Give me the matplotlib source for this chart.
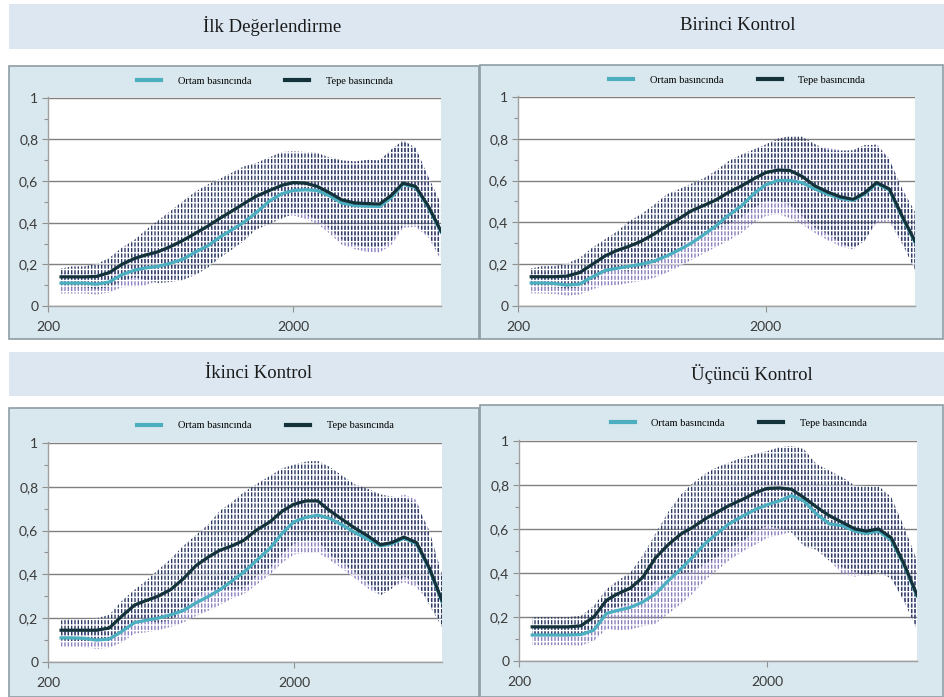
import numpy as np
import matplotlib.pyplot as plt
from matplotlib.patches import Rectangle
from matplotlib.lines import Line2D
from matplotlib.ticker import FixedLocator, NullLocator

plt.rcParams['hatch.linewidth'] = 1.0

W, H = 944, 697

# frequency grid (Hz)
freq_hz = [226, 250, 280, 315, 355, 400, 450, 500, 560, 630, 710, 800, 900, 1000,
           1120, 1250, 1400, 1600, 1800, 2000, 2240, 2500, 2800, 3150, 3550, 4000,
           4500, 5000, 5600, 6300, 7100, 8000]

# İlk Değerlendirme
ilk_ortam = [0.11, 0.11, 0.11, 0.105, 0.115, 0.15, 0.172, 0.183, 0.19, 0.205, 0.225, 0.26,
             0.29, 0.33, 0.365, 0.40, 0.445, 0.505, 0.54, 0.555, 0.558, 0.555, 0.53, 0.495,
             0.483, 0.48, 0.478, 0.52, 0.585, 0.57, 0.475, 0.355]
ilk_ortam_sd = [0.05, 0.05, 0.05, 0.05, 0.05, 0.06, 0.08, 0.083, 0.07, 0.075, 0.075, 0.08,
                0.08, 0.08, 0.075, 0.07, 0.075, 0.095, 0.11, 0.12, 0.14, 0.16, 0.18, 0.2,
                0.21, 0.22, 0.22, 0.23, 0.21, 0.19, 0.145, 0.135]
ilk_tepe = [0.14, 0.14, 0.14, 0.142, 0.16, 0.20, 0.228, 0.245, 0.26, 0.285, 0.315, 0.35,
            0.385, 0.42, 0.455, 0.49, 0.525, 0.555, 0.58, 0.593, 0.59, 0.575, 0.545, 0.51,
            0.495, 0.492, 0.49, 0.53, 0.59, 0.575, 0.48, 0.36]
ilk_tepe_sd = [0.04, 0.05, 0.05, 0.06, 0.07, 0.08, 0.09, 0.12, 0.15, 0.17, 0.19, 0.2,
               0.2, 0.19, 0.185, 0.18, 0.16, 0.16, 0.16, 0.15, 0.15, 0.16, 0.17, 0.19,
               0.2, 0.21, 0.21, 0.22, 0.205, 0.185, 0.14, 0.13]

# Birinci Kontrol
birinci_ortam = [0.11, 0.11, 0.108, 0.10, 0.105, 0.14, 0.17, 0.18, 0.19, 0.20, 0.215, 0.24,
                 0.27, 0.30, 0.34, 0.38, 0.43, 0.48, 0.54, 0.58, 0.60, 0.60, 0.59, 0.56,
                 0.535, 0.515, 0.505, 0.535, 0.585, 0.555, 0.425, 0.305]
birinci_ortam_sd = [0.05, 0.05, 0.05, 0.05, 0.05, 0.06, 0.07, 0.08, 0.08, 0.08, 0.08, 0.08,
                    0.08, 0.08, 0.09, 0.1, 0.12, 0.13, 0.14, 0.15, 0.16, 0.18, 0.2, 0.21,
                    0.22, 0.23, 0.235, 0.22, 0.19, 0.15, 0.13, 0.1]
birinci_tepe = [0.14, 0.14, 0.14, 0.143, 0.16, 0.20, 0.24, 0.265, 0.285, 0.31, 0.345, 0.385,
                0.42, 0.455, 0.48, 0.505, 0.54, 0.575, 0.61, 0.638, 0.65, 0.648, 0.62, 0.575,
                0.545, 0.522, 0.51, 0.54, 0.59, 0.56, 0.43, 0.31]
birinci_tepe_sd = [0.04, 0.05, 0.05, 0.06, 0.07, 0.08, 0.08, 0.09, 0.12, 0.13, 0.14, 0.15,
                   0.14, 0.13, 0.13, 0.14, 0.15, 0.15, 0.14, 0.135, 0.15, 0.165, 0.19, 0.2,
                   0.2, 0.22, 0.235, 0.23, 0.18, 0.14, 0.13, 0.14]

# İkinci Kontrol
ikinci_ortam = [0.11, 0.11, 0.108, 0.10, 0.105, 0.14, 0.18, 0.19, 0.20, 0.215, 0.235, 0.27,
                0.30, 0.33, 0.37, 0.41, 0.46, 0.52, 0.59, 0.64, 0.66, 0.67, 0.655, 0.625,
                0.59, 0.56, 0.53, 0.54, 0.565, 0.54, 0.425, 0.275]
ikinci_ortam_sd = [0.04, 0.04, 0.04, 0.04, 0.04, 0.05, 0.05, 0.055, 0.055, 0.055, 0.055, 0.06,
                   0.065, 0.07, 0.08, 0.1, 0.11, 0.12, 0.135, 0.15, 0.16, 0.17, 0.19, 0.2,
                   0.21, 0.225, 0.225, 0.2, 0.2, 0.2, 0.15, 0.1]
ikinci_tepe = [0.145, 0.145, 0.145, 0.145, 0.155, 0.21, 0.26, 0.28, 0.30, 0.33, 0.38, 0.44,
               0.48, 0.51, 0.53, 0.555, 0.60, 0.64, 0.69, 0.72, 0.735, 0.735, 0.69, 0.65,
               0.61, 0.575, 0.535, 0.545, 0.57, 0.545, 0.43, 0.28]
ikinci_tepe_sd = [0.045, 0.05, 0.05, 0.055, 0.06, 0.07, 0.07, 0.09, 0.12, 0.14, 0.15, 0.14,
                  0.15, 0.18, 0.2, 0.22, 0.21, 0.21, 0.195, 0.18, 0.18, 0.183, 0.2, 0.2,
                  0.2, 0.215, 0.23, 0.21, 0.18, 0.18, 0.17, 0.12]

# Üçüncü Kontrol
ucuncu_ortam = [0.118, 0.118, 0.118, 0.118, 0.12, 0.14, 0.216, 0.23, 0.243, 0.268, 0.306, 0.366,
                0.42, 0.472, 0.533, 0.578, 0.623, 0.66, 0.69, 0.71, 0.728, 0.751, 0.728, 0.668,
                0.623, 0.615, 0.59, 0.58, 0.59, 0.55, 0.435, 0.295]
ucuncu_ortam_sd = [0.046, 0.046, 0.046, 0.046, 0.05, 0.05, 0.07, 0.09, 0.1, 0.11, 0.136, 0.15,
                   0.16, 0.166, 0.167, 0.168, 0.166, 0.16, 0.16, 0.15, 0.155, 0.165, 0.15, 0.138,
                   0.166, 0.22, 0.207, 0.187, 0.187, 0.175, 0.16, 0.14]
ucuncu_tepe = [0.155, 0.155, 0.155, 0.155, 0.16, 0.20, 0.276, 0.306, 0.33, 0.38, 0.47, 0.53,
               0.578, 0.607, 0.645, 0.675, 0.706, 0.736, 0.766, 0.784, 0.786, 0.78, 0.743, 0.70,
               0.66, 0.63, 0.60, 0.59, 0.60, 0.56, 0.44, 0.30]
ucuncu_tepe_sd = [0.045, 0.045, 0.045, 0.045, 0.045, 0.05, 0.05, 0.06, 0.07, 0.10, 0.11, 0.15,
                  0.18, 0.2, 0.205, 0.205, 0.195, 0.19, 0.175, 0.17, 0.185, 0.197, 0.22, 0.195,
                  0.205, 0.205, 0.195, 0.205, 0.195, 0.185, 0.17, 0.157]

titles = ["İlk Değerlendirme", "Birinci Kontrol", "İkinci Kontrol", "Üçüncü Kontrol"]
series_labels = ["Ortam basıncında", "Tepe basıncında"]
y_ticks = [0, 0.2, 0.4, 0.6, 0.8, 1]
y_tick_labels = ["0", "0,2", "0,4", "0,6", "0,8", "1"]
y_minor = [0.1, 0.3, 0.5, 0.7, 0.9]
x_ticks = [200, 2000]
x_tick_labels = ["200", "2000"]

ORTAM = '#4bafc0'
TEPE = '#14323a'
ORTAM_BAR = '#8a80bd'
TEPE_BAR = '#2d3b63'
PANEL_BG = '#d9e8ee'
STRIP_BG = '#dce7f2'


def fig_rect(x0, y0, x1, y1):
    # pixel box (top-left origin) -> figure fraction [left, bottom, width, height]
    return [x0 / W, 1 - y1 / H, (x1 - x0) / W, (y1 - y0) / H]


fig = plt.figure(figsize=(W / 100, H / 100), dpi=100)

# title strips
for y0, y1 in [(4, 49), (352, 396)]:
    l, b, w, h = fig_rect(9, y0, 944, y1)
    fig.add_artist(Rectangle((l, b), w, h, transform=fig.transFigure,
                             facecolor=STRIP_BG, edgecolor='none', zorder=0))

# chart panels
panel_boxes = [(9, 66, 479, 339), (480, 65, 943, 339), (9, 408, 479, 697), (480, 405, 943, 697)]
for x0, y0, x1, y1 in panel_boxes:
    l, b, w, h = fig_rect(x0, y0, x1, y1)
    fig.add_artist(Rectangle((l, b), w, h, transform=fig.transFigure,
                             facecolor=PANEL_BG, edgecolor='#8e9da3', linewidth=1.2, zorder=0))

title_pos = [(272, 26), (738, 26), (259, 374), (752, 374)]
for (tx, ty), t in zip(title_pos, titles):
    fig.text(tx / W, 1 - ty / H, t, ha='center', va='center',
             family='Liberation Serif', fontsize=13.5, color='#1a1a1a')

axes_boxes = [(48, 97, 441, 306), (518, 96, 915, 306), (48, 442, 442, 662), (519, 440, 917, 661)]
panel_data = [
    (ilk_ortam, ilk_ortam_sd, ilk_tepe, ilk_tepe_sd),
    (birinci_ortam, birinci_ortam_sd, birinci_tepe, birinci_tepe_sd),
    (ikinci_ortam, ikinci_ortam_sd, ikinci_tepe, ikinci_tepe_sd),
    (ucuncu_ortam, ucuncu_ortam_sd, ucuncu_tepe, ucuncu_tepe_sd),
]

f = np.array(freq_hz)
for box, (ortam, ortam_sd, tepe, tepe_sd) in zip(axes_boxes, panel_data):
    ax = fig.add_axes(fig_rect(*box))
    ax.set_facecolor('white')
    o, osd = np.array(ortam), np.array(ortam_sd)
    t, tsd = np.array(tepe), np.array(tepe_sd)

    # standard deviation bands drawn as dense dashed vertical bars
    ax.fill_between(f, o - osd, o + osd, facecolor='none', edgecolor=ORTAM_BAR,
                    hatch='|||||', linewidth=0, zorder=1)
    ax.fill_between(f, t - tsd, t + tsd, facecolor='none', edgecolor=TEPE_BAR,
                    hatch='|||||', linewidth=0, zorder=1.1)
    lo = np.minimum(o - osd, t - tsd)
    hi = np.maximum(o + osd, t + tsd)
    ax.fill_between(f, lo, hi, facecolor='none', edgecolor='white',
                    hatch='---', linewidth=0, zorder=1.2)

    ax.plot(f, o, color=ORTAM, lw=2.3, zorder=3, solid_joinstyle='round')
    ax.plot(f, t, color=TEPE, lw=2.3, zorder=3.1, solid_joinstyle='round')

    ax.set_xscale('log')
    ax.set_xlim(200, 8000)
    ax.set_ylim(0, 1.004)
    ax.xaxis.set_major_locator(FixedLocator(x_ticks))
    ax.xaxis.set_minor_locator(NullLocator())
    ax.set_xticklabels(x_tick_labels)
    ax.set_yticks(y_ticks)
    ax.set_yticklabels(y_tick_labels)
    ax.set_yticks(y_minor, minor=True)

    ax.yaxis.grid(True, color='#808080', linewidth=1.0, zorder=0.5)
    ax.set_axisbelow(True)
    for side in ['top', 'right']:
        ax.spines[side].set_visible(False)
    for side in ['left', 'bottom']:
        ax.spines[side].set_color('#a0a0a0')
        ax.spines[side].set_linewidth(1.0)

    ax.tick_params(axis='y', which='major', length=4, width=0.8, color='#909090', pad=3,
                   labelsize=10, labelcolor='#3a3a3a')
    ax.tick_params(axis='y', which='minor', length=3, width=0.8, color='#909090')
    ax.tick_params(axis='x', which='major', length=4, width=0.8, color='#909090', pad=7,
                   labelsize=10, labelcolor='#3a3a3a')
    for lab in ax.get_xticklabels() + ax.get_yticklabels():
        lab.set_family('Lato')

    ax.legend([Line2D([], [], color=ORTAM, lw=3), Line2D([], [], color=TEPE, lw=3)],
              series_labels, loc='center', bbox_to_anchor=(0.552, 1.075), ncol=2,
              frameon=False, handlelength=2.3, handletextpad=1.6, columnspacing=3.3,
              prop={'family': 'Liberation Serif', 'size': 7.5})

fig.savefig('out.png', dpi=100)
